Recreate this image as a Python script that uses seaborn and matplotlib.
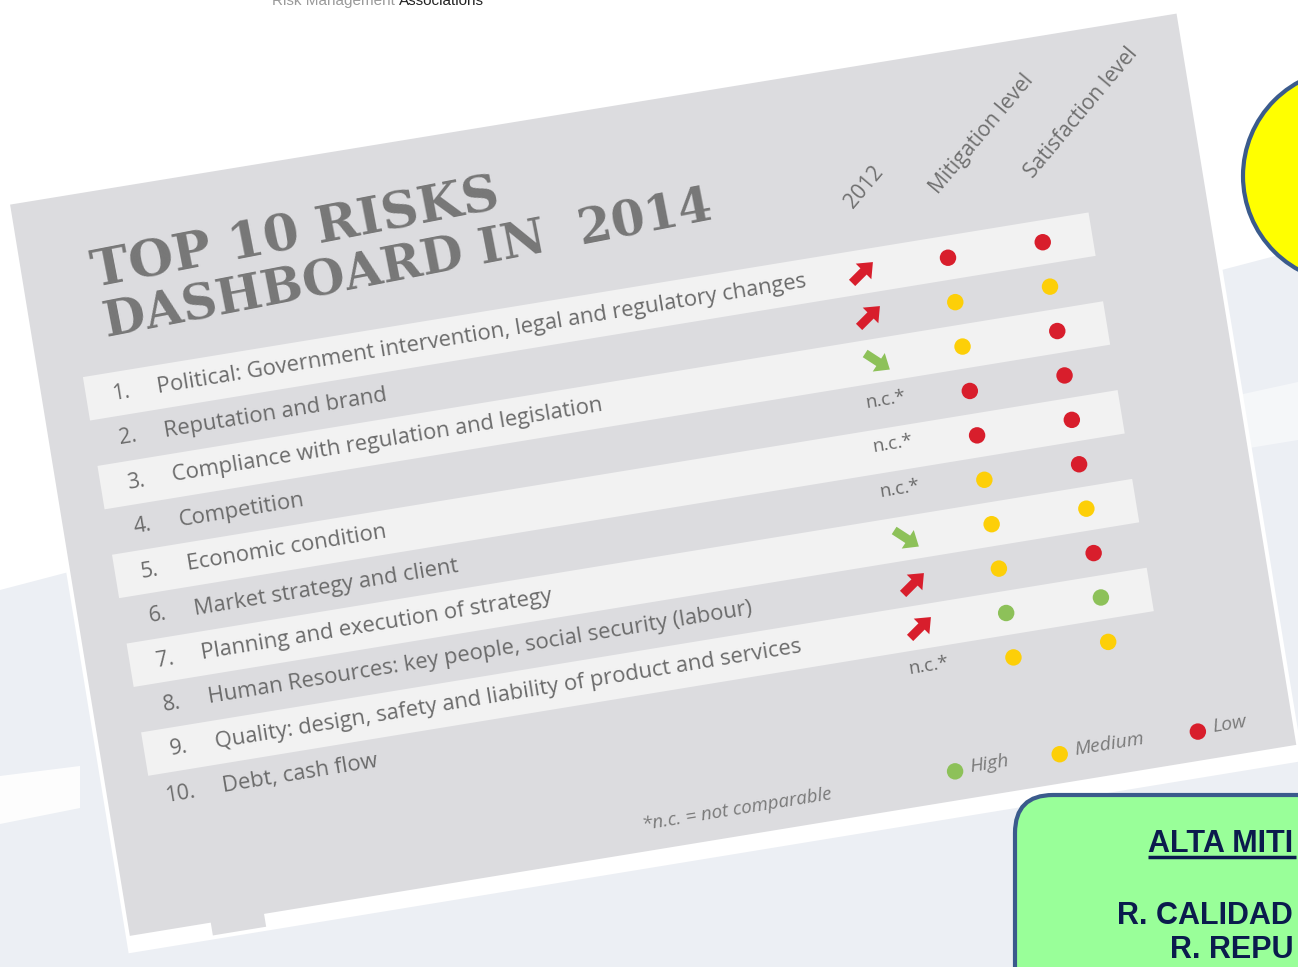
import numpy as np
import pandas as pd
import matplotlib
matplotlib.use("Agg")
import matplotlib.pyplot as plt
import seaborn as sns
from matplotlib.patches import Rectangle, Polygon, Circle, FancyBboxPatch
from matplotlib.transforms import Affine2D
from matplotlib.path import Path
from matplotlib.markers import MarkerStyle

# values
risks = [
    "Political: Government intervention, legal and regulatory changes",
    "Reputation and brand",
    "Compliance with regulation and legislation",
    "Competition",
    "Economic condition",
    "Market strategy and client",
    "Planning and execution of strategy",
    "Human Resources: key people, social security (labour)",
    "Quality: design, safety and liability of product and services",
    "Debt, cash flow",
]
trend_2012 = ["up", "up", "down", "n.c.", "n.c.", "n.c.", "down", "up", "up", "n.c."]
mitigation = ["Low", "Medium", "Medium", "Low", "Low", "Medium", "Medium", "Medium", "High", "Medium"]
satisfaction = ["Low", "Medium", "Low", "Low", "Low", "Low", "Medium", "Low", "High", "Medium"]
columns = ["2012", "Mitigation level", "Satisfaction level"]
levels = ["High", "Medium", "Low"]
level_colors = {"High": "#8dc159", "Medium": "#fdcf08", "Low": "#d81e2c"}
arrow_colors = {"up": "#d81e2c", "down": "#8dc159"}
box_lines = ["ALTA MITI", "R. CALIDAD", "R. REPU"]

# layout of the (tilted) dashboard, in pixels
ANGLE = 9.3
ORIGIN = (122, 393)
ROW_H = 45
COL_U = [750, 837, 933]
LEGEND_U = [761, 867, 1007]
LEGEND_V = 508

sns.set_theme(style="white")
plt.rcParams["font.family"] = ["Open Sans", "DejaVu Sans"]

fig = plt.figure(figsize=(12.98, 9.67), dpi=100)
fig.patch.set_facecolor("#eceff4")
ax = fig.add_axes([0, 0, 1, 1])
ax.set_xlim(0, 1298)
ax.set_ylim(967, 0)
ax.set_axis_off()

# local frame of the dashboard: u along the rows, v down the rows
local = Affine2D().rotate_deg(-ANGLE).translate(*ORIGIN) + ax.transData

# background of the slide
ax.add_patch(Polygon([(0, 0), (1298, 0), (1298, 250), (0, 590)], closed=True,
                     facecolor="white", edgecolor="none", zorder=0))
ax.add_patch(Polygon([(0, 776), (80, 766), (80, 808), (0, 824)], closed=True,
                     facecolor="white", alpha=0.9, edgecolor="none", zorder=0))
ax.add_patch(Polygon([(1225, 398), (1298, 382), (1298, 440), (1225, 452)], closed=True,
                     facecolor="white", alpha=0.5, edgecolor="none", zorder=0))
head = ax.text(272, 5, "Risk Management ", ha="left", va="baseline", fontsize=11,
               color="#9a9a9a", family="Liberation Sans", zorder=1)
ax.annotate("Associations", xy=(1, 0), xycoords=head, ha="left", va="bottom", fontsize=11,
            color="#222222", family="Liberation Sans", zorder=1)

# the panel
ax.add_patch(Rectangle((-84, -204), 1190, 758, facecolor="white", edgecolor="none",
                       transform=local, zorder=1))
ax.add_patch(Rectangle((-80, -204), 1182, 741, facecolor="#dcdcdf", edgecolor="none",
                       transform=local, zorder=2))
ax.add_patch(Rectangle((2, 530), 54, 20, facecolor="#dcdcdf", edgecolor="none",
                       transform=local, zorder=2))

df = pd.DataFrame({
    "rank": np.arange(1, len(risks) + 1),
    "risk": risks,
    "trend": trend_2012,
    "Mitigation level": mitigation,
    "Satisfaction level": satisfaction,
})
df["v"] = (df["rank"] - 1) * ROW_H

# alternating light stripes
for v in df["v"][::2]:
    ax.add_patch(Rectangle((-36, v - 22), 1019, 44, facecolor="#f2f2f2", edgecolor="none",
                           transform=local, zorder=3))

txt = "#6b6b6b"
for _, r in df.iterrows():
    ax.text(8, r["v"], f"{r['rank']}.", ha="right", va="center", fontsize=15.5, color=txt,
            rotation=ANGLE, rotation_mode="anchor", transform=local, zorder=6)
    ax.text(36, r["v"], r["risk"], ha="left", va="center", fontsize=15.8, color=txt,
            rotation=ANGLE, rotation_mode="anchor", transform=local, zorder=6)

# column headers
for name, u in zip(columns, COL_U):
    ax.text(u + 4, -60, name, ha="left", va="bottom", fontsize=15.2, color="#707070",
            rotation=50, rotation_mode="anchor", transform=local, zorder=6)

# title
title_kw = dict(ha="left", va="baseline", color="#777777", family="DejaVu Serif",
                weight="bold", rotation=11, rotation_mode="anchor", transform=local, zorder=6)
ax.text(-10, -109, "TOP 10 RISKS", fontsize=37, **title_kw)
ax.text(-6, -57, "DASHBOARD IN  2014", fontsize=35, **title_kw)

# mitigation / satisfaction dots
dots = df.melt(id_vars=["rank", "v"], value_vars=columns[1:], var_name="column", value_name="level")
dots["u"] = dots["column"].map(dict(zip(columns, COL_U)))
sns.scatterplot(data=dots, x="u", y="v", hue="level", palette=level_colors, s=140,
                linewidth=0, legend=False, transform=local, ax=ax, zorder=7)

# 2012 trend arrows
arrow = Path([(-1, -0.3), (0.1, -0.3), (0.1, -0.75), (1, 0), (0.1, 0.75), (0.1, 0.3),
              (-1, 0.3), (-1, -0.3)],
             [Path.MOVETO] + [Path.LINETO] * 6 + [Path.CLOSEPOLY])
for trend, rot in [("up", 45), ("down", -33)]:
    sub = df[df["trend"] == trend]
    sns.scatterplot(x=np.full(len(sub), COL_U[0]), y=sub["v"].to_numpy(),
                    marker=MarkerStyle(arrow, transform=Affine2D().rotate_deg(rot)),
                    s=450, color=arrow_colors[trend], linewidth=0, transform=local,
                    ax=ax, zorder=7)
for v in df.loc[df["trend"] == "n.c.", "v"]:
    ax.text(COL_U[0] + 2, v - 5, "n.c.*", ha="center", va="center", fontsize=13.5, color=txt,
            rotation=ANGLE, rotation_mode="anchor", transform=local, zorder=6)

# legend
leg = pd.DataFrame({"u": LEGEND_U, "v": [LEGEND_V] * 3, "level": levels})
sns.scatterplot(data=leg, x="u", y="v", hue="level", palette=level_colors, s=140,
                linewidth=0, legend=False, transform=local, ax=ax, zorder=7)
for u, lv in zip(LEGEND_U, levels):
    ax.text(u + 15, LEGEND_V - 2, lv, ha="left", va="center", fontsize=14, style="italic",
            color="#7a7a7a", rotation=ANGLE, rotation_mode="anchor", transform=local, zorder=6)
ax.text(540, 511, "*n.c. = not comparable", ha="center", va="center", fontsize=13.5,
        style="italic", color="#7a7a7a", rotation=ANGLE, rotation_mode="anchor",
        transform=local, zorder=6)

# slide overlays
ax.add_patch(Circle((1350, 176), 107, facecolor="#ffff00", edgecolor="#3b5b8c", lw=3, zorder=8))
ax.add_patch(FancyBboxPatch((1015, 795), 420, 320, boxstyle="round,pad=0,rounding_size=38",
                            facecolor="#99ff99", edgecolor="#3b5b8c", lw=3, zorder=8))
box_kw = dict(ha="left", va="baseline", fontsize=22, weight="bold", color="#0b1b4d",
              family="Liberation Sans", zorder=9)
ax.text(1148, 852, box_lines[0], **box_kw)
ax.plot([1148, 1296], [857, 857], color="#0b1b4d", lw=2.5, zorder=9, solid_capstyle="butt")
ax.text(1117, 924, box_lines[1], **box_kw)
ax.text(1170, 958, box_lines[2], **box_kw)

fig.savefig("out.png", dpi=100, facecolor=fig.get_facecolor())
